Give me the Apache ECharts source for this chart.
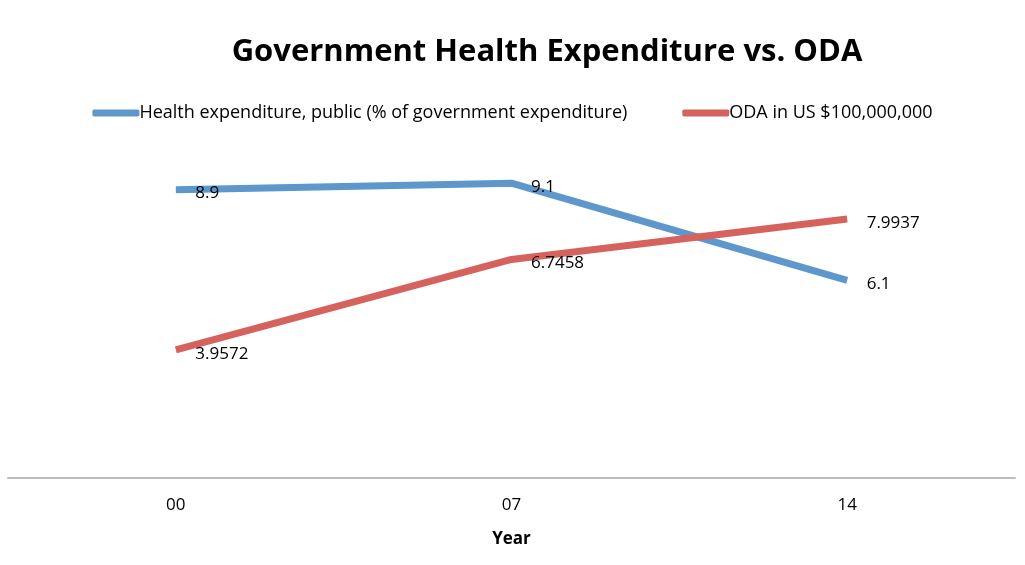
<!DOCTYPE html>
<html><head><meta charset="utf-8">
<script src="https://cdn.jsdelivr.net/npm/echarts@6/dist/echarts.min.js"></script>
<style>html,body{margin:0;padding:0;background:#fff}#c{width:1025px;height:565px}</style>
</head><body><div id="c"></div>
<script>
const categories = ['00', '07', '14'];
const healthExp = [8.9, 9.1, 6.1];
const odaValues = [3.9572, 6.7458, 7.9937];
const seriesNames = ['Health expenditure, public (% of government expenditure)', 'ODA in US $100,000,000'];
const FONT = '"Open Sans", sans-serif';
const chart = echarts.init(document.getElementById('c'));
function lineSeries(name, data, color) {
  return {
    name, type: 'line', data,
    symbol: 'circle', symbolSize: 1, showSymbol: true,
    itemStyle: { color: 'rgba(0,0,0,0)' },
    lineStyle: { color: color, width: 7 },
    label: { show: true, position: 'right', distance: 19, offset: [0, 4], color: '#000', fontFamily: FONT, fontSize: 17 },
    emphasis: { disabled: true }
  };
}
chart.setOption({
  animation: false,
  title: { text: 'Government Health Expenditure vs. ODA', left: 542, top: 32, textAlign: 'center',
    textStyle: { fontFamily: FONT, fontWeight: 'bold', fontSize: 31, color: '#000' } },
  legend: { top: 99, left: 'center', itemWidth: 47, itemHeight: 7, itemGap: 55,
    textStyle: { fontFamily: FONT, fontSize: 18, color: '#000', padding: [0, 0, 0, -5] },
    icon: 'roundRect',
    data: [{ name: seriesNames[0], itemStyle: { color: '#5D97CC' } }, { name: seriesNames[1], itemStyle: { color: '#D6625E' } }] },
  grid: { left: 8, right: 10, top: 154, bottom: 87 },
  xAxis: { type: 'category', data: categories, boundaryGap: true,
    name: 'Year', nameLocation: 'middle', nameGap: 53,
    nameTextStyle: { fontFamily: FONT, fontWeight: 'bold', fontSize: 17, color: '#000' },
    axisLine: { lineStyle: { color: '#bdbdbd', width: 2 } }, axisTick: { show: false },
    axisLabel: { margin: 19, fontFamily: FONT, fontSize: 17, color: '#000' } },
  yAxis: { type: 'value', min: 0, max: 10, show: false, splitLine: { show: false } },
  series: [lineSeries(seriesNames[0], healthExp, '#5D97CC'), lineSeries(seriesNames[1], odaValues, '#D6625E')]
});
</script></body></html>
